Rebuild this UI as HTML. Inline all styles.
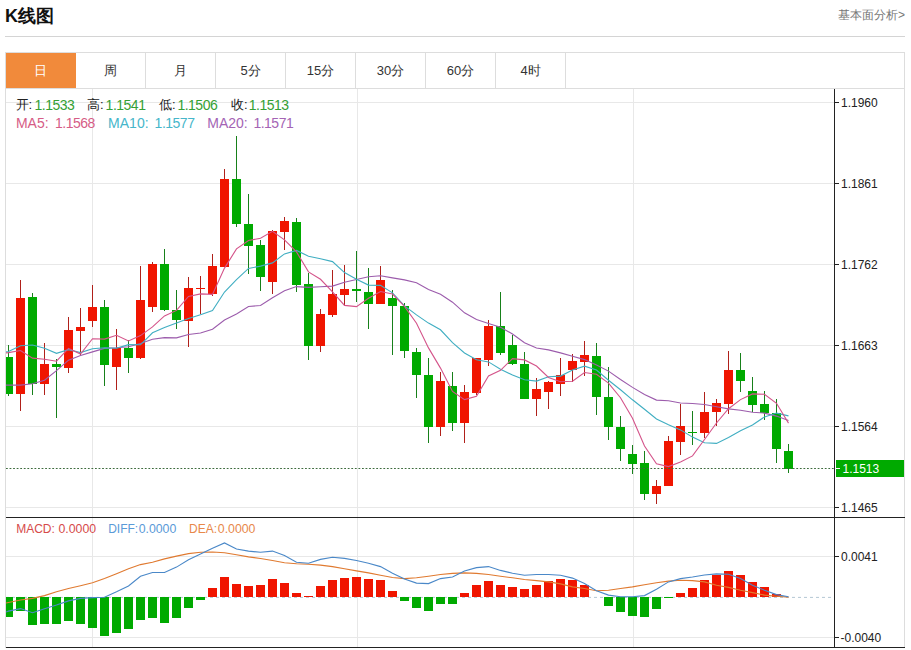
<!DOCTYPE html>
<html><head><meta charset="utf-8"><style>
*{margin:0;padding:0;box-sizing:border-box}
html,body{width:911px;height:650px;overflow:hidden;background:#fff;font-family:"Liberation Sans",sans-serif;color:#333}
.t{position:absolute;white-space:nowrap;line-height:16px}
#title{position:absolute;left:5px;top:4px;font-size:18px;font-weight:bold;color:#111;line-height:24px}
#more{position:absolute;left:838px;top:7px;font-size:12px;color:#777;line-height:16px}
#hr{position:absolute;left:5px;top:36px;width:900px;height:1px;background:#d4d4d4}
#box{position:absolute;left:5px;top:52px;width:900px;height:596px;border:1px solid #ddd;border-bottom:none}
#tabbar{position:absolute;left:5px;top:52px;width:900px;height:37px;border:1px solid #ddd}
.tab{position:absolute;top:53px;width:70px;height:35px;line-height:35px;text-align:center;font-size:13px;color:#333;border-right:1px solid #ddd}
.tab.on{background:#f18a3b;color:#fff;border-right-color:#f18a3b}
svg{position:absolute;left:0;top:0}
svg rect{shape-rendering:crispEdges}
#cur{position:absolute;left:836px;top:460px;width:68px;height:17px;background:#00aa00;color:#fff;font-size:12px;line-height:19px;padding-left:6.5px}
#cur:before{content:"";position:absolute;left:0;top:8px;width:4px;height:1px;background:#fff}
</style></head><body>
<div id="title">K线图</div>
<div id="more">基本面分析&gt;</div>
<div id="hr"></div>
<div id="box"></div>
<div id="tabbar"></div>
<div class="tab on" style="left:6px">日</div>
<div class="tab" style="left:76px">周</div>
<div class="tab" style="left:146px">月</div>
<div class="tab" style="left:216px">5分</div>
<div class="tab" style="left:286px">15分</div>
<div class="tab" style="left:356px">30分</div>
<div class="tab" style="left:426px">60分</div>
<div class="tab" style="left:496px">4时</div>
<svg width="911" height="650" viewBox="0 0 911 650"><defs><clipPath id="cp"><rect x="6" y="89" width="828" height="558"/></clipPath></defs><g clip-path="url(#cp)">
<rect x="6" y="102" width="828" height="1" fill="#e8e8e8"/>
<rect x="6" y="183" width="828" height="1" fill="#e8e8e8"/>
<rect x="6" y="264" width="828" height="1" fill="#e8e8e8"/>
<rect x="6" y="345" width="828" height="1" fill="#e8e8e8"/>
<rect x="6" y="426" width="828" height="1" fill="#e8e8e8"/>
<rect x="6" y="507" width="828" height="1" fill="#e8e8e8"/>
<rect x="6" y="556" width="828" height="1" fill="#e8e8e8"/>
<rect x="6" y="637" width="828" height="1" fill="#e8e8e8"/>
<rect x="92" y="89" width="1" height="558" fill="#e8e8e8"/>
<rect x="357" y="89" width="1" height="558" fill="#e8e8e8"/>
<rect x="633" y="89" width="1" height="558" fill="#e8e8e8"/>
<line x1="6" y1="597.4" x2="834" y2="597.4" stroke="#b4c8d4" stroke-width="1" stroke-dasharray="3,3"/>
<rect x="8.0" y="345.0" width="1" height="50.9" fill="#17801a"/>
<rect x="4.0" y="357.3" width="9" height="36.7" fill="#00aa00"/>
<rect x="20.0" y="280.4" width="1" height="130.5" fill="#b0201a"/>
<rect x="16.0" y="298.2" width="9" height="95.8" fill="#f01500"/>
<rect x="32.0" y="293.0" width="1" height="101.7" fill="#17801a"/>
<rect x="28.0" y="297.0" width="9" height="86.6" fill="#00aa00"/>
<rect x="44.0" y="343.4" width="1" height="51.3" fill="#b0201a"/>
<rect x="40.0" y="363.5" width="9" height="20.4" fill="#f01500"/>
<rect x="56.0" y="359.0" width="1" height="58.8" fill="#17801a"/>
<rect x="52.0" y="363.5" width="9" height="3.0" fill="#00aa00"/>
<rect x="68.0" y="317.3" width="1" height="55.9" fill="#b0201a"/>
<rect x="64.0" y="330.0" width="9" height="37.7" fill="#f01500"/>
<rect x="80.0" y="308.0" width="1" height="47.5" fill="#b0201a"/>
<rect x="76.0" y="326.6" width="9" height="3.9" fill="#f01500"/>
<rect x="92.0" y="285.0" width="1" height="41.6" fill="#b0201a"/>
<rect x="88.0" y="307.0" width="9" height="13.8" fill="#f01500"/>
<rect x="104.0" y="300.0" width="1" height="86.3" fill="#17801a"/>
<rect x="100.0" y="306.6" width="9" height="58.6" fill="#00aa00"/>
<rect x="116.0" y="329.3" width="1" height="60.7" fill="#b0201a"/>
<rect x="112.0" y="347.6" width="9" height="18.9" fill="#f01500"/>
<rect x="128.0" y="340.3" width="1" height="32.2" fill="#17801a"/>
<rect x="124.0" y="348.2" width="9" height="9.9" fill="#00aa00"/>
<rect x="140.0" y="266.0" width="1" height="92.9" fill="#b0201a"/>
<rect x="136.0" y="300.0" width="9" height="58.1" fill="#f01500"/>
<rect x="152.0" y="262.0" width="1" height="49.8" fill="#b0201a"/>
<rect x="148.0" y="263.5" width="9" height="43.6" fill="#f01500"/>
<rect x="164.0" y="248.8" width="1" height="62.2" fill="#17801a"/>
<rect x="160.0" y="264.0" width="9" height="46.3" fill="#00aa00"/>
<rect x="176.0" y="290.1" width="1" height="38.7" fill="#17801a"/>
<rect x="172.0" y="309.7" width="9" height="10.5" fill="#00aa00"/>
<rect x="188.0" y="277.0" width="1" height="70.1" fill="#b0201a"/>
<rect x="184.0" y="288.0" width="9" height="32.7" fill="#f01500"/>
<rect x="200.0" y="275.8" width="1" height="37.9" fill="#b0201a"/>
<rect x="196.0" y="287.5" width="9" height="1.5" fill="#f01500"/>
<rect x="212.0" y="254.0" width="1" height="42.0" fill="#b0201a"/>
<rect x="208.0" y="265.8" width="9" height="28.2" fill="#f01500"/>
<rect x="224.0" y="169.4" width="1" height="97.3" fill="#b0201a"/>
<rect x="220.0" y="179.1" width="9" height="87.6" fill="#f01500"/>
<rect x="236.0" y="136.0" width="1" height="91.0" fill="#17801a"/>
<rect x="232.0" y="179.1" width="9" height="45.2" fill="#00aa00"/>
<rect x="248.0" y="193.8" width="1" height="79.7" fill="#17801a"/>
<rect x="244.0" y="223.6" width="9" height="22.2" fill="#00aa00"/>
<rect x="260.0" y="240.0" width="1" height="51.0" fill="#17801a"/>
<rect x="256.0" y="245.3" width="9" height="31.3" fill="#00aa00"/>
<rect x="272.0" y="229.6" width="1" height="64.0" fill="#b0201a"/>
<rect x="268.0" y="230.9" width="9" height="51.0" fill="#f01500"/>
<rect x="284.0" y="216.5" width="1" height="33.5" fill="#b0201a"/>
<rect x="280.0" y="221.2" width="9" height="10.5" fill="#f01500"/>
<rect x="296.0" y="217.8" width="1" height="73.7" fill="#17801a"/>
<rect x="292.0" y="221.7" width="9" height="63.3" fill="#00aa00"/>
<rect x="308.0" y="272.7" width="1" height="87.0" fill="#17801a"/>
<rect x="304.0" y="284.4" width="9" height="61.5" fill="#00aa00"/>
<rect x="320.0" y="309.3" width="1" height="42.6" fill="#b0201a"/>
<rect x="316.0" y="313.7" width="9" height="32.2" fill="#f01500"/>
<rect x="332.0" y="270.0" width="1" height="46.6" fill="#b0201a"/>
<rect x="328.0" y="293.6" width="9" height="21.4" fill="#f01500"/>
<rect x="344.0" y="264.8" width="1" height="40.0" fill="#b0201a"/>
<rect x="340.0" y="288.9" width="9" height="6.0" fill="#f01500"/>
<rect x="356.0" y="250.5" width="1" height="51.7" fill="#17801a"/>
<rect x="352.0" y="289.2" width="9" height="1.8" fill="#00aa00"/>
<rect x="368.0" y="267.5" width="1" height="61.4" fill="#17801a"/>
<rect x="364.0" y="291.8" width="9" height="12.0" fill="#00aa00"/>
<rect x="380.0" y="266.1" width="1" height="37.7" fill="#b0201a"/>
<rect x="376.0" y="280.0" width="9" height="23.8" fill="#f01500"/>
<rect x="392.0" y="289.7" width="1" height="64.8" fill="#17801a"/>
<rect x="388.0" y="298.0" width="9" height="8.4" fill="#00aa00"/>
<rect x="404.0" y="303.0" width="1" height="54.6" fill="#17801a"/>
<rect x="400.0" y="306.4" width="9" height="44.4" fill="#00aa00"/>
<rect x="416.0" y="347.5" width="1" height="50.1" fill="#17801a"/>
<rect x="412.0" y="351.9" width="9" height="23.5" fill="#00aa00"/>
<rect x="428.0" y="357.6" width="1" height="85.8" fill="#17801a"/>
<rect x="424.0" y="374.9" width="9" height="52.0" fill="#00aa00"/>
<rect x="440.0" y="372.0" width="1" height="63.6" fill="#b0201a"/>
<rect x="436.0" y="381.2" width="9" height="46.0" fill="#f01500"/>
<rect x="452.0" y="372.0" width="1" height="59.1" fill="#17801a"/>
<rect x="448.0" y="385.9" width="9" height="36.8" fill="#00aa00"/>
<rect x="464.0" y="384.6" width="1" height="58.8" fill="#b0201a"/>
<rect x="460.0" y="391.9" width="9" height="30.8" fill="#f01500"/>
<rect x="476.0" y="357.6" width="1" height="37.4" fill="#b0201a"/>
<rect x="472.0" y="358.4" width="9" height="34.5" fill="#f01500"/>
<rect x="488.0" y="319.7" width="1" height="46.6" fill="#b0201a"/>
<rect x="484.0" y="325.8" width="9" height="33.9" fill="#f01500"/>
<rect x="500.0" y="291.8" width="1" height="63.5" fill="#17801a"/>
<rect x="496.0" y="326.3" width="9" height="26.6" fill="#00aa00"/>
<rect x="512.0" y="335.4" width="1" height="30.0" fill="#17801a"/>
<rect x="508.0" y="345.3" width="9" height="18.7" fill="#00aa00"/>
<rect x="524.0" y="352.3" width="1" height="46.5" fill="#17801a"/>
<rect x="520.0" y="364.0" width="9" height="34.6" fill="#00aa00"/>
<rect x="536.0" y="378.4" width="1" height="37.2" fill="#b0201a"/>
<rect x="532.0" y="388.9" width="9" height="9.7" fill="#f01500"/>
<rect x="548.0" y="381.0" width="1" height="28.0" fill="#b0201a"/>
<rect x="544.0" y="382.4" width="9" height="9.6" fill="#f01500"/>
<rect x="560.0" y="358.0" width="1" height="38.0" fill="#b0201a"/>
<rect x="556.0" y="375.3" width="9" height="8.4" fill="#f01500"/>
<rect x="572.0" y="354.4" width="1" height="27.2" fill="#b0201a"/>
<rect x="568.0" y="360.7" width="9" height="9.3" fill="#f01500"/>
<rect x="584.0" y="340.5" width="1" height="35.3" fill="#b0201a"/>
<rect x="580.0" y="355.4" width="9" height="6.8" fill="#f01500"/>
<rect x="596.0" y="342.7" width="1" height="72.1" fill="#17801a"/>
<rect x="592.0" y="355.8" width="9" height="41.5" fill="#00aa00"/>
<rect x="608.0" y="366.5" width="1" height="73.2" fill="#17801a"/>
<rect x="604.0" y="396.8" width="9" height="29.8" fill="#00aa00"/>
<rect x="620.0" y="415.5" width="1" height="45.0" fill="#17801a"/>
<rect x="616.0" y="426.5" width="9" height="22.2" fill="#00aa00"/>
<rect x="632.0" y="445.3" width="1" height="28.3" fill="#17801a"/>
<rect x="628.0" y="454.0" width="9" height="9.6" fill="#00aa00"/>
<rect x="644.0" y="451.3" width="1" height="48.9" fill="#17801a"/>
<rect x="640.0" y="463.1" width="9" height="30.9" fill="#00aa00"/>
<rect x="656.0" y="480.0" width="1" height="23.6" fill="#b0201a"/>
<rect x="652.0" y="485.8" width="9" height="8.2" fill="#f01500"/>
<rect x="668.0" y="436.4" width="1" height="49.7" fill="#b0201a"/>
<rect x="664.0" y="440.9" width="9" height="45.2" fill="#f01500"/>
<rect x="680.0" y="404.3" width="1" height="50.4" fill="#b0201a"/>
<rect x="676.0" y="426.0" width="9" height="15.7" fill="#f01500"/>
<rect x="692.0" y="410.8" width="1" height="34.0" fill="#17801a"/>
<rect x="688.0" y="432.3" width="9" height="1.0" fill="#00aa00"/>
<rect x="704.0" y="392.2" width="1" height="46.1" fill="#b0201a"/>
<rect x="700.0" y="412.0" width="9" height="20.5" fill="#f01500"/>
<rect x="716.0" y="398.8" width="1" height="27.5" fill="#b0201a"/>
<rect x="712.0" y="403.0" width="9" height="9.3" fill="#f01500"/>
<rect x="728.0" y="351.0" width="1" height="62.7" fill="#b0201a"/>
<rect x="724.0" y="369.5" width="9" height="34.5" fill="#f01500"/>
<rect x="740.0" y="352.5" width="1" height="39.0" fill="#17801a"/>
<rect x="736.0" y="370.0" width="9" height="10.5" fill="#00aa00"/>
<rect x="752.0" y="377.1" width="1" height="34.8" fill="#17801a"/>
<rect x="748.0" y="391.0" width="9" height="13.6" fill="#00aa00"/>
<rect x="764.0" y="390.5" width="1" height="29.2" fill="#17801a"/>
<rect x="760.0" y="404.0" width="9" height="9.2" fill="#00aa00"/>
<rect x="776.0" y="398.8" width="1" height="64.6" fill="#17801a"/>
<rect x="772.0" y="413.2" width="9" height="35.3" fill="#00aa00"/>
<rect x="788.0" y="444.0" width="1" height="28.5" fill="#17801a"/>
<rect x="784.0" y="451.1" width="9" height="17.5" fill="#00aa00"/>
<polyline points="6.0,385.1 8.5,385.1 20.5,385.1 32.5,383.7 44.5,380.3 56.5,370.6 68.5,360.2 80.5,355.4 92.5,351.9 104.5,348.4 116.5,347.8 128.5,346.8 140.5,343.5 152.5,339.2 164.5,337.6 176.5,337.9 188.5,334.5 200.5,333.0 212.5,329.2 224.5,320.0 236.5,313.9 248.5,306.5 260.5,305.5 272.5,297.8 284.5,290.7 296.5,286.6 308.5,287.4 320.5,286.8 332.5,286.1 344.5,282.3 356.5,279.5 368.5,276.8 380.5,275.8 392.5,277.9 404.5,279.9 416.5,282.7 428.5,289.6 440.5,294.3 452.5,302.2 464.5,312.8 476.5,319.5 488.5,323.5 500.5,327.3 512.5,334.0 524.5,342.8 536.5,348.0 548.5,349.9 560.5,352.9 572.5,356.3 584.5,359.6 596.5,364.9 608.5,371.1 620.5,379.5 632.5,387.4 644.5,394.5 656.5,400.1 668.5,400.8 680.5,403.0 692.5,403.5 704.5,404.5 716.5,406.7 728.5,408.9 740.5,410.3 752.5,412.3 764.5,413.1 776.5,416.1 788.5,420.4" fill="none" stroke="#9c5cac" stroke-width="1.1"/>
<polyline points="6.0,351.9 8.5,351.5 20.5,345.7 32.5,345.0 44.5,348.2 56.5,353.3 68.5,349.6 80.5,352.6 92.5,348.7 104.5,347.8 116.5,348.2 128.5,344.6 140.5,344.8 152.5,332.8 164.5,327.5 176.5,322.9 188.5,318.6 200.5,314.7 212.5,310.6 224.5,292.0 236.5,279.7 248.5,268.4 260.5,266.1 272.5,262.9 284.5,253.9 296.5,250.4 308.5,256.2 320.5,258.8 332.5,261.6 344.5,272.6 356.5,279.3 368.5,285.1 380.5,285.4 392.5,292.9 404.5,305.9 416.5,314.9 428.5,323.1 440.5,329.8 452.5,342.7 464.5,353.0 476.5,359.8 488.5,361.9 500.5,369.2 512.5,375.0 524.5,379.8 536.5,381.1 548.5,376.7 560.5,376.1 572.5,369.9 584.5,366.2 596.5,370.1 608.5,380.2 620.5,389.8 632.5,399.8 644.5,409.3 656.5,419.0 668.5,424.8 680.5,429.9 692.5,437.1 704.5,442.8 716.5,443.4 728.5,437.6 740.5,430.8 752.5,424.9 764.5,416.9 776.5,413.1 788.5,415.9" fill="none" stroke="#40aec2" stroke-width="1.1"/>
<polyline points="6.0,352.9 8.5,352.6 20.5,350.5 32.5,358.1 44.5,359.2 56.5,361.2 68.5,348.4 80.5,354.0 92.5,338.7 104.5,339.1 116.5,335.3 128.5,340.9 140.5,335.6 152.5,326.9 164.5,315.9 176.5,310.4 188.5,296.4 200.5,293.9 212.5,294.4 224.5,268.1 236.5,248.9 248.5,240.5 260.5,238.3 272.5,231.3 284.5,239.8 296.5,251.9 308.5,271.9 320.5,279.3 332.5,291.9 344.5,305.4 356.5,306.6 368.5,298.2 380.5,291.5 392.5,294.0 404.5,306.4 416.5,323.3 428.5,347.9 440.5,368.1 452.5,391.4 464.5,399.6 476.5,396.2 488.5,376.0 500.5,370.3 512.5,358.6 524.5,359.9 536.5,366.0 548.5,377.4 560.5,381.8 572.5,381.2 584.5,372.5 596.5,374.2 608.5,383.1 620.5,397.7 632.5,418.3 644.5,446.0 656.5,463.7 668.5,466.6 680.5,462.1 692.5,455.9 704.5,439.5 716.5,423.0 728.5,408.7 740.5,399.6 752.5,393.9 764.5,394.2 776.5,403.3 788.5,423.1" fill="none" stroke="#d4548a" stroke-width="1.1"/>
<line x1="6" y1="468.5" x2="834" y2="468.5" stroke="#3d6b3d" stroke-width="1" stroke-dasharray="1.8,1.76"/>
<rect x="4.0" y="597.4" width="9" height="19.5" fill="#00aa00"/>
<rect x="16.0" y="597.4" width="9" height="14.0" fill="#00aa00"/>
<rect x="28.0" y="597.4" width="9" height="27.2" fill="#00aa00"/>
<rect x="40.0" y="597.4" width="9" height="26.1" fill="#00aa00"/>
<rect x="52.0" y="597.4" width="9" height="26.1" fill="#00aa00"/>
<rect x="64.0" y="597.4" width="9" height="23.5" fill="#00aa00"/>
<rect x="76.0" y="597.4" width="9" height="26.3" fill="#00aa00"/>
<rect x="88.0" y="597.4" width="9" height="30.1" fill="#00aa00"/>
<rect x="100.0" y="597.4" width="9" height="38.4" fill="#00aa00"/>
<rect x="112.0" y="597.4" width="9" height="35.1" fill="#00aa00"/>
<rect x="124.0" y="597.4" width="9" height="31.8" fill="#00aa00"/>
<rect x="136.0" y="597.4" width="9" height="22.4" fill="#00aa00"/>
<rect x="148.0" y="597.4" width="9" height="20.2" fill="#00aa00"/>
<rect x="160.0" y="597.4" width="9" height="25.2" fill="#00aa00"/>
<rect x="172.0" y="597.4" width="9" height="20.8" fill="#00aa00"/>
<rect x="184.0" y="597.4" width="9" height="10.3" fill="#00aa00"/>
<rect x="196.0" y="597.4" width="9" height="2.2" fill="#00aa00"/>
<rect x="208.0" y="588.4" width="9" height="9.0" fill="#f01500"/>
<rect x="220.0" y="577.0" width="9" height="20.4" fill="#f01500"/>
<rect x="232.0" y="584.0" width="9" height="13.4" fill="#f01500"/>
<rect x="244.0" y="585.7" width="9" height="11.7" fill="#f01500"/>
<rect x="256.0" y="585.3" width="9" height="12.1" fill="#f01500"/>
<rect x="268.0" y="579.2" width="9" height="18.2" fill="#f01500"/>
<rect x="280.0" y="582.9" width="9" height="14.5" fill="#f01500"/>
<rect x="292.0" y="593.4" width="9" height="4.0" fill="#f01500"/>
<rect x="304.0" y="596.0" width="9" height="1.4" fill="#f01500"/>
<rect x="316.0" y="586.2" width="9" height="11.2" fill="#f01500"/>
<rect x="328.0" y="580.3" width="9" height="17.1" fill="#f01500"/>
<rect x="340.0" y="578.0" width="9" height="19.4" fill="#f01500"/>
<rect x="352.0" y="577.4" width="9" height="20.0" fill="#f01500"/>
<rect x="364.0" y="578.7" width="9" height="18.7" fill="#f01500"/>
<rect x="376.0" y="580.3" width="9" height="17.1" fill="#f01500"/>
<rect x="388.0" y="590.8" width="9" height="6.6" fill="#f01500"/>
<rect x="400.0" y="597.4" width="9" height="3.7" fill="#00aa00"/>
<rect x="412.0" y="597.4" width="9" height="10.3" fill="#00aa00"/>
<rect x="424.0" y="597.4" width="9" height="14.0" fill="#00aa00"/>
<rect x="436.0" y="597.4" width="9" height="6.6" fill="#00aa00"/>
<rect x="448.0" y="597.4" width="9" height="6.3" fill="#00aa00"/>
<rect x="460.0" y="593.0" width="9" height="4.4" fill="#f01500"/>
<rect x="472.0" y="584.6" width="9" height="12.8" fill="#f01500"/>
<rect x="484.0" y="580.9" width="9" height="16.5" fill="#f01500"/>
<rect x="496.0" y="585.3" width="9" height="12.1" fill="#f01500"/>
<rect x="508.0" y="587.3" width="9" height="10.1" fill="#f01500"/>
<rect x="520.0" y="589.0" width="9" height="8.4" fill="#f01500"/>
<rect x="532.0" y="584.6" width="9" height="12.8" fill="#f01500"/>
<rect x="544.0" y="581.4" width="9" height="16.0" fill="#f01500"/>
<rect x="556.0" y="579.2" width="9" height="18.2" fill="#f01500"/>
<rect x="568.0" y="579.6" width="9" height="17.8" fill="#f01500"/>
<rect x="580.0" y="585.0" width="9" height="12.4" fill="#f01500"/>
<rect x="604.0" y="597.4" width="9" height="8.4" fill="#00aa00"/>
<rect x="616.0" y="597.4" width="9" height="14.7" fill="#00aa00"/>
<rect x="628.0" y="597.4" width="9" height="18.4" fill="#00aa00"/>
<rect x="640.0" y="597.4" width="9" height="19.5" fill="#00aa00"/>
<rect x="652.0" y="597.4" width="9" height="11.4" fill="#00aa00"/>
<rect x="664.0" y="597.4" width="9" height="0.6" fill="#00aa00"/>
<rect x="676.0" y="592.6" width="9" height="4.8" fill="#f01500"/>
<rect x="688.0" y="588.0" width="9" height="9.4" fill="#f01500"/>
<rect x="700.0" y="580.3" width="9" height="17.1" fill="#f01500"/>
<rect x="712.0" y="575.0" width="9" height="22.4" fill="#f01500"/>
<rect x="724.0" y="570.9" width="9" height="26.5" fill="#f01500"/>
<rect x="736.0" y="575.0" width="9" height="22.4" fill="#f01500"/>
<rect x="748.0" y="581.6" width="9" height="15.8" fill="#f01500"/>
<rect x="760.0" y="586.9" width="9" height="10.5" fill="#f01500"/>
<rect x="772.0" y="594.0" width="9" height="3.4" fill="#f01500"/>
<polyline points="6.0,603.0 8.5,602.5 20.5,600.0 32.5,598.4 44.5,595.6 56.5,591.8 68.5,588.5 80.5,585.7 92.5,582.8 104.5,578.6 116.5,573.7 128.5,568.8 140.5,564.6 152.5,562.2 164.5,558.9 176.5,556.1 188.5,553.6 200.5,552.3 212.5,552.0 224.5,552.8 236.5,554.8 248.5,556.9 260.5,558.5 272.5,560.5 284.5,562.7 296.5,563.8 308.5,564.3 320.5,565.1 332.5,566.6 344.5,568.8 356.5,570.9 368.5,572.9 380.5,575.3 392.5,577.5 404.5,578.6 416.5,577.8 428.5,576.2 440.5,574.5 452.5,573.4 464.5,572.9 476.5,573.4 488.5,574.5 500.5,576.2 512.5,577.8 524.5,579.5 536.5,580.6 548.5,581.9 560.5,583.9 572.5,586.9 584.5,588.5 596.5,590.7 608.5,590.2 620.5,588.5 632.5,586.9 644.5,584.7 656.5,582.8 668.5,581.1 680.5,580.3 692.5,580.6 704.5,581.9 716.5,585.2 728.5,587.4 740.5,590.2 752.5,592.6 764.5,595.1 776.5,596.3 788.5,597.1" fill="none" stroke="#e07a30" stroke-width="1.1"/>
<polyline points="6.0,612.1 8.5,611.1 20.5,608.6 32.5,612.7 44.5,608.8 56.5,605.0 68.5,600.9 80.5,598.4 92.5,597.6 104.5,597.2 116.5,591.8 128.5,586.0 140.5,576.2 152.5,572.5 164.5,572.5 176.5,567.1 188.5,559.7 200.5,553.9 212.5,548.2 224.5,542.9 236.5,549.0 248.5,551.1 260.5,552.3 272.5,551.1 284.5,555.6 296.5,562.2 308.5,563.3 320.5,559.4 332.5,557.2 344.5,558.4 356.5,560.5 368.5,563.3 380.5,566.6 392.5,573.2 404.5,579.1 416.5,583.1 428.5,583.6 440.5,578.6 452.5,577.0 464.5,570.9 476.5,567.6 488.5,566.6 500.5,570.4 512.5,573.2 524.5,575.3 536.5,574.5 548.5,574.5 560.5,575.3 572.5,578.1 584.5,583.6 596.5,590.7 608.5,595.1 620.5,596.7 632.5,596.7 644.5,595.6 656.5,589.3 668.5,581.9 680.5,578.6 692.5,577.0 704.5,575.0 716.5,573.9 728.5,574.2 740.5,578.6 752.5,585.2 764.5,590.2 776.5,594.6 788.5,596.7" fill="none" stroke="#4a88c8" stroke-width="1.1"/>
</g>
<rect x="834" y="89" width="1" height="559" fill="#222"/>
<rect x="6" y="517" width="899" height="1" fill="#222"/>
<rect x="6" y="647" width="899" height="1" fill="#222"/>
<rect x="835" y="102" width="4" height="1" fill="#222"/>
<rect x="835" y="183" width="4" height="1" fill="#222"/>
<rect x="835" y="264" width="4" height="1" fill="#222"/>
<rect x="835" y="345" width="4" height="1" fill="#222"/>
<rect x="835" y="426" width="4" height="1" fill="#222"/>
<rect x="835" y="507" width="4" height="1" fill="#222"/>
<rect x="835" y="556" width="4" height="1" fill="#222"/>
<rect x="835" y="637" width="4" height="1" fill="#222"/>
</svg>
<div id="cur">1.1513</div>
<div class="t" style="left:15.6px;top:97.0px;font-size:13.0px;color:#222;">开:</div>
<div class="t" style="left:34.5px;top:96.5px;font-size:14.0px;color:#34a034;letter-spacing:-0.5px">1.1533</div>
<div class="t" style="left:87.1px;top:97.0px;font-size:13.0px;color:#222;">高:</div>
<div class="t" style="left:105.6px;top:96.5px;font-size:14.0px;color:#34a034;letter-spacing:-0.5px">1.1541</div>
<div class="t" style="left:159.1px;top:97.0px;font-size:13.0px;color:#222;">低:</div>
<div class="t" style="left:177.4px;top:96.5px;font-size:14.0px;color:#34a034;letter-spacing:-0.5px">1.1506</div>
<div class="t" style="left:231.1px;top:97.0px;font-size:13.0px;color:#222;">收:</div>
<div class="t" style="left:248.8px;top:96.5px;font-size:14.0px;color:#34a034;letter-spacing:-0.5px">1.1513</div>
<div class="t" style="left:15.9px;top:114.5px;font-size:14.0px;color:#d65c86;">MA5:</div>
<div class="t" style="left:55.0px;top:114.5px;font-size:14.0px;color:#d65c86;letter-spacing:-0.5px">1.1568</div>
<div class="t" style="left:108.1px;top:114.5px;font-size:14.0px;color:#46b6ca;">MA10:</div>
<div class="t" style="left:154.6px;top:114.5px;font-size:14.0px;color:#46b6ca;letter-spacing:-0.5px">1.1577</div>
<div class="t" style="left:207.3px;top:114.5px;font-size:14.0px;color:#a464b4;">MA20:</div>
<div class="t" style="left:253.4px;top:114.5px;font-size:14.0px;color:#a464b4;letter-spacing:-0.5px">1.1571</div>
<div class="t" style="left:16.2px;top:520.5px;font-size:12.0px;color:#d64a4a;">MACD:</div>
<div class="t" style="left:58.5px;top:520.5px;font-size:12.3px;color:#d64a4a;">0.0000</div>
<div class="t" style="left:108.2px;top:520.5px;font-size:12.0px;color:#5a9ad8;">DIFF:</div>
<div class="t" style="left:138.7px;top:520.5px;font-size:12.3px;color:#5a9ad8;">0.0000</div>
<div class="t" style="left:189.0px;top:520.5px;font-size:12.0px;color:#e8884a;">DEA:</div>
<div class="t" style="left:217.8px;top:520.5px;font-size:12.3px;color:#e8884a;">0.0000</div>
<div class="t" style="left:841.0px;top:94.7px;font-size:12.0px;color:#222;transform:scaleY(1.08);transform-origin:0 50%">1.1960</div>
<div class="t" style="left:841.0px;top:175.7px;font-size:12.0px;color:#222;transform:scaleY(1.08);transform-origin:0 50%">1.1861</div>
<div class="t" style="left:841.0px;top:256.7px;font-size:12.0px;color:#222;transform:scaleY(1.08);transform-origin:0 50%">1.1762</div>
<div class="t" style="left:841.0px;top:337.7px;font-size:12.0px;color:#222;transform:scaleY(1.08);transform-origin:0 50%">1.1663</div>
<div class="t" style="left:841.0px;top:418.7px;font-size:12.0px;color:#222;transform:scaleY(1.08);transform-origin:0 50%">1.1564</div>
<div class="t" style="left:841.0px;top:499.7px;font-size:12.0px;color:#222;transform:scaleY(1.08);transform-origin:0 50%">1.1465</div>
<div class="t" style="left:841.0px;top:548.7px;font-size:12.0px;color:#222;transform:scaleY(1.08);transform-origin:0 50%">0.0041</div>
<div class="t" style="left:840.5px;top:629.7px;font-size:12.0px;color:#222;transform:scaleY(1.08);transform-origin:0 50%">-0.0040</div>
</body></html>
